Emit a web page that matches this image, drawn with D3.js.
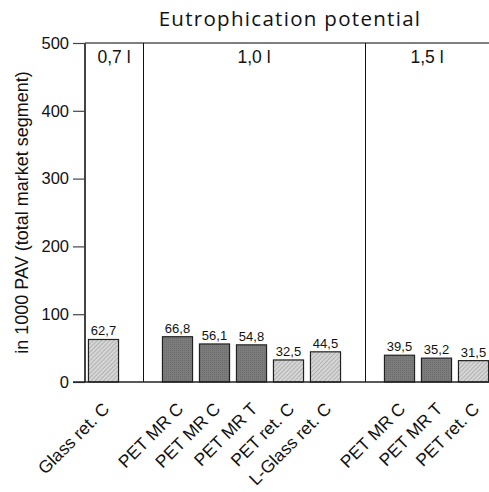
<!DOCTYPE html>
<html><head><meta charset="utf-8">
<script src="https://cdn.jsdelivr.net/npm/d3@7"></script>
<style>body{margin:0;background:#fff}svg{display:block}</style>
</head><body><svg id="c" width="489" height="492"></svg>
<script>
const title = "Eutrophication potential";
const yLabel = "in 1000 PAV (total market segment)";
const slots = ["s0","s1","s2","s3","s4","s5","s6","s7","s8","s9","s10"];
const categories = ["Glass ret. C","","PET MR C","PET MR C","PET MR T","PET ret. C","L-Glass ret. C","","PET MR C","PET MR T","PET ret. C"];
const values = [62.7,null,66.8,56.1,54.8,32.5,44.5,null,39.5,35.2,31.5];
const valueLabels = ["62,7","","66,8","56,1","54,8","32,5","44,5","","39,5","35,2","31,5"];
const kinds = ["light","","dark","dark","dark","light","light","","dark","dark","light"];
const groups = [{label:"0,7 l", from:0, to:1},{label:"1,0 l", from:1, to:7},{label:"1,5 l", from:7, to:11}];
const separatorSlots = [1,7];
const yTicks = [0,100,200,300,400,500];

(function(){
const svg = d3.select("#c");
const W = 489, H = 492;
const mLeft = 85, mTop = 43, mBottom = 382;
const F = "Liberation Sans, Arial, Helvetica, sans-serif";
const x = d3.scaleBand().domain(slots).range([mLeft, mLeft + 11*37]).paddingInner(0.16).paddingOuter(0.08);
const y = d3.scaleLinear().domain([0,500]).range([mBottom, mTop]);

const defs = svg.append("defs");
const pl = defs.append("pattern").attr("id","pl").attr("patternUnits","userSpaceOnUse").attr("width",3).attr("height",3).attr("patternTransform","rotate(45)");
pl.append("rect").attr("width",3).attr("height",3).attr("fill","#d6d6d6");
pl.append("rect").attr("width",1).attr("height",3).attr("fill","#b2b2b2");
const pd = defs.append("pattern").attr("id","pd").attr("patternUnits","userSpaceOnUse").attr("width",2).attr("height",2);
pd.append("rect").attr("width",2).attr("height",2).attr("fill","#7c7c7c");
pd.append("rect").attr("width",1).attr("height",1).attr("fill","#6c6c6c");

svg.append("text").attr("x", 290).attr("y", 26).attr("text-anchor","middle")
  .attr("font-family","Open Sans, Lato, sans-serif").attr("font-size",20.5).attr("letter-spacing",1.3).attr("fill","#111").text(title);

svg.append("text").attr("transform",`translate(28,212.5) rotate(-90)`).attr("text-anchor","middle")
  .attr("font-family",F).attr("font-size",18).attr("fill","#111").text(yLabel);

const ya = svg.append("g").attr("transform",`translate(${mLeft},0)`)
  .call(d3.axisLeft(y).tickValues(yTicks).tickSize(12).tickPadding(4).tickFormat(d3.format("d")));
ya.select(".domain").remove();
ya.attr("font-family",F).attr("font-size",16.5);
ya.selectAll(".tick line").attr("stroke","#444").attr("stroke-width",1.2);
ya.selectAll(".tick text").attr("fill","#111");

svg.append("line").attr("x1",mLeft).attr("x2",mLeft).attr("y1",mTop).attr("y2",mBottom).attr("stroke","#444").attr("stroke-width",2);
svg.append("line").attr("x1",mLeft).attr("x2",W).attr("y1",y(500)).attr("y2",y(500)).attr("stroke","#555").attr("stroke-width",1.5);

separatorSlots.forEach(i=>{
  const sx = Math.round(x(slots[i]) + x.bandwidth()/2 + 2.5) + 0.5;
  svg.append("line").attr("x1",sx).attr("x2",sx).attr("y1",mTop).attr("y2",mBottom).attr("stroke","#111").attr("stroke-width",1);
});

groups.forEach(g=>{
  const a = g.from===0 ? mLeft : x(slots[g.from]) + x.bandwidth()/2 + 2.5;
  const b = g.to>=slots.length ? W : x(slots[g.to]) + x.bandwidth()/2 + 2.5;
  svg.append("text").attr("x",(a+b)/2).attr("y",63).attr("text-anchor","middle")
    .attr("font-family",F).attr("font-size",17.5).attr("fill","#111").text(g.label);
});

const idx = d3.range(slots.length).filter(i=>values[i]!=null);
svg.selectAll("rect.bar").data(idx).enter().append("rect").attr("class","bar")
  .attr("x",i=>x(slots[i])+0.5).attr("width",x.bandwidth()-1)
  .attr("y",i=>y(values[i])).attr("height",i=>y(0)-y(values[i]))
  .attr("fill",i=>kinds[i]==="dark"?"url(#pd)":"url(#pl)").attr("stroke","#222").attr("stroke-width",1.2);

svg.selectAll("text.val").data(idx).enter().append("text").attr("class","val")
  .attr("x",i=>x(slots[i])+x.bandwidth()/2).attr("y",i=>y(values[i])-4).attr("text-anchor","middle")
  .attr("font-family",F).attr("font-size",13).attr("fill","#111").text(i=>valueLabels[i]);

svg.append("line").attr("x1",mLeft-12).attr("x2",W).attr("y1",mBottom).attr("y2",mBottom).attr("stroke","#222").attr("stroke-width",1.5);

svg.selectAll("text.cat").data(idx).enter().append("text").attr("class","cat")
  .attr("transform",i=>`translate(${x(slots[i])+x.bandwidth()/2+7},${mBottom+28}) rotate(-45)`)
  .attr("text-anchor","end")
  .attr("font-family",F).attr("font-size",17.5).attr("fill","#111").text(i=>categories[i]);
})();
</script></body></html>
